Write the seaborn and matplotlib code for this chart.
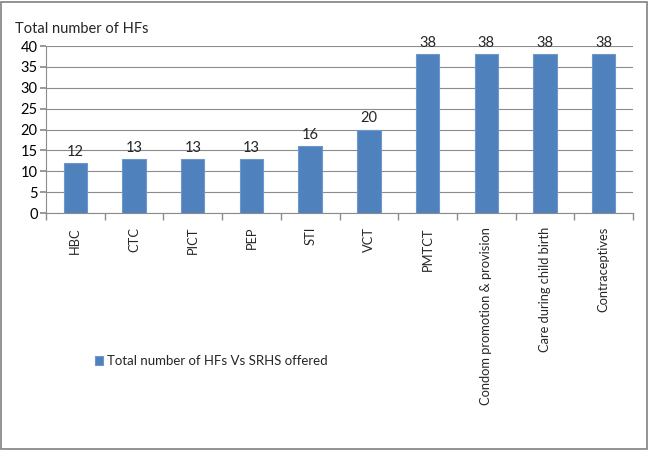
import matplotlib
matplotlib.use("Agg")
import matplotlib.pyplot as plt
import seaborn as sns
import pandas as pd
from matplotlib.patches import Rectangle

categories = ["HBC", "CTC", "PICT", "PEP", "STI", "VCT", "PMTCT",
              "Condom promotion & provision", "Care during child birth", "Contraceptives"]
values = [12, 13, 13, 13, 16, 20, 38, 38, 38, 38]
series_name = "Total number of HFs Vs SRHS offered"
y_title = "Total number of HFs"

sns.set_theme(style="white")
plt.rcParams['font.family'] = ['Lato', 'DejaVu Sans']

df = pd.DataFrame({"cat": categories, "val": values})

fig = plt.figure(figsize=(6.5, 4.5), dpi=100)
ax = fig.add_axes([46/650, 1-213/450, (633-46)/650, (213-46)/450])

sns.barplot(data=df, x="cat", y="val", ax=ax, color="#4F81BD", width=0.4,
            edgecolor="#6E98CB", linewidth=0.8, saturation=1, label=series_name)
handles, labels = ax.get_legend_handles_labels()
if ax.get_legend() is not None:
    ax.get_legend().remove()

ax.set_ylim(0, 40)
ax.set_yticks(range(0, 41, 5))
ax.set_xlim(-0.5, len(categories) - 0.5)
ax.yaxis.grid(True, color="#8C8C8C", linewidth=0.8)
ax.set_axisbelow(True)
ax.set_xlabel("")
ax.set_ylabel("")

for s in ["top", "right"]:
    ax.spines[s].set_visible(False)
for s in ["left", "bottom"]:
    ax.spines[s].set_color("#8C8C8C")
    ax.spines[s].set_linewidth(0.8)

ax.tick_params(axis="y", which="both", left=True, length=4, color="#8C8C8C",
               labelsize=10.5, pad=2, labelcolor="black")
ax.set_xticks(range(len(categories)))
ax.set_xticklabels(categories, rotation=90, fontsize=9.3, va="top")
ax.tick_params(axis="x", which="major", bottom=False, pad=4)
ax.set_xticks([i + 0.5 for i in range(-1, len(categories))], minor=True)
ax.tick_params(axis="x", which="minor", bottom=True, length=5, color="#8C8C8C")

for c in ax.containers:
    ax.bar_label(c, labels=[str(v) for v in values], padding=3, fontsize=10.5)

fig.text(15/650, 1-29/450, y_title, fontsize=10.5, ha="left", va="center")

fig.legend(handles, labels, loc="center left",
           bbox_to_anchor=(83/650, 1-361/450), frameon=False,
           fontsize=9.5, handlelength=0.6, handleheight=0.6, handletextpad=0.35)

fig.patches.append(Rectangle((0.002, 0.003), 0.994, 0.993, transform=fig.transFigure,
                             fill=False, edgecolor="#808080", linewidth=1.2))

fig.savefig("out.png", dpi=100)
